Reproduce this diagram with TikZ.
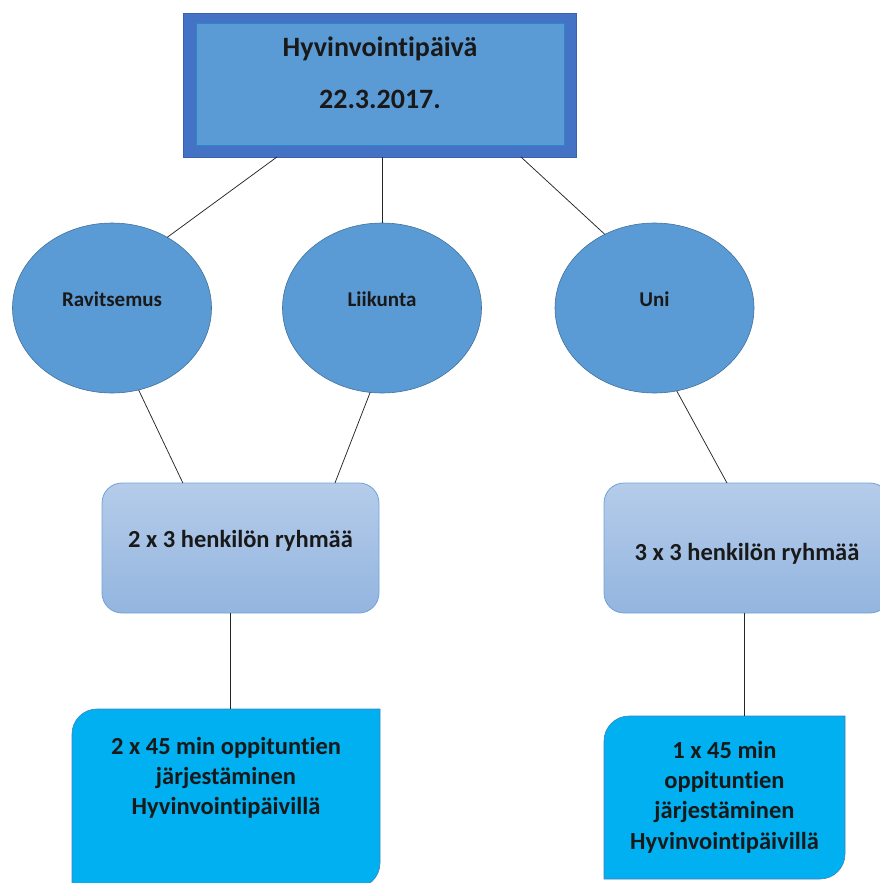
\documentclass[tikz,border=0pt]{standalone}
\usepackage{fontspec}
\setmainfont{Carlito}[Ligatures={NoCommon,NoContextual},Contextuals=NoAlternate]
\usetikzlibrary{shapes.geometric,calc}
\definecolor{tOuter}{HTML}{4472C4}
\definecolor{tOuterLine}{HTML}{3A62AE}
\definecolor{tInner}{HTML}{5B9BD5}
\definecolor{tInnerLine}{HTML}{2E86C8}
\definecolor{ovalFill}{HTML}{5B9BD5}
\definecolor{ovalLine}{HTML}{41719C}
\definecolor{gTop}{HTML}{B5CCEA}
\definecolor{gBot}{HTML}{93B5DF}
\definecolor{gLine}{HTML}{72A2DA}
\definecolor{bFill}{HTML}{00B0F0}
\definecolor{bLine}{HTML}{3F7FBF}
\begin{document}
\begin{tikzpicture}[x=1pt,y=-1pt,
  titleouterbox/.style={rectangle,fill=tOuter,draw=tOuterLine,line width=0.6pt,inner sep=0pt,outer sep=0pt},
  titleinnerbox/.style={rectangle,fill=tInner,draw=tInnerLine,line width=0.8pt,inner sep=0pt,outer sep=0pt},
  titletext/.style={font=\bfseries\fontsize{28}{52}\selectfont,align=center,inner sep=0pt,text=black!90},
  oval/.style={ellipse,fill=ovalFill,draw=ovalLine,line width=0.6pt,minimum width=199pt,minimum height=170pt,inner sep=0pt,outer sep=0pt},
  ovaltext/.style={font=\bfseries\fontsize{21}{25}\selectfont,inner sep=0pt,text=black!90},
  groupbox/.style={rectangle,rounded corners=20pt,top color=gTop,bottom color=gBot,draw=gLine,line width=0.8pt,inner sep=0pt,outer sep=0pt,minimum height=130pt},
  grouptext/.style={font=\bfseries\fontsize{24.5}{30}\selectfont,inner sep=0pt,text=black!90},
  lessonframe/.style={rectangle,inner sep=0pt,outer sep=0pt},
  lessonbox/.style={fill=bFill,draw=bLine,line width=0.6pt},
  lessontext/.style={font=\bfseries\fontsize{24.5}{30.3}\selectfont,align=center,inner sep=0pt,text=black!90},
  conn/.style={draw=black!85,line width=0.75pt}
]
\useasboundingbox (0,0) rectangle (880,883);
\clip (0,0) rectangle (880,883);

% title
\node[titleouterbox,minimum width=393pt,minimum height=144pt] (titleo) at (379.5,85) {};
\node[titleinnerbox,minimum width=368pt,minimum height=122pt] (titlei) at (380,84) {};
\node[titletext] (titlet) at (380,72.5) {Hyvinvointipäivä\\22.3.2017.};

% ellipses
\node[oval] (rav) at (112,308) {};
\node[ovaltext] (ravt) at (112,299.5) {Ravitsemus};
\node[oval] (liik) at (382,308) {};
\node[ovaltext] (liikt) at (382,299.5) {Liikunta};
\node[oval] (uni) at (654.5,308) {};
\node[ovaltext] (unit) at (654.5,299.5) {Uni};

% group boxes
\node[groupbox,minimum width=277pt] (g1) at (240.5,548) {};
\node[grouptext] (g1t) at (240.5,541) {2 x 3 henkilön ryhmää};
\node[groupbox,minimum width=286pt] (g2) at (747,548) {};
\node[grouptext] (g2t) at (747,554) {3 x 3 henkilön ryhmää};

% lesson boxes
\node[lessonframe,minimum width=308pt,minimum height=179pt] (b1) at (226,798.5) {};
\path[lessonbox] (b1.north east) -- ([yshift=25pt]b1.south east)
  arc[start angle=0,end angle=-90,radius=25pt] -- (b1.south west)
  -- ([yshift=-25pt]b1.north west) arc[start angle=180,end angle=90,radius=25pt] -- cycle;
\node[lessontext] (b1t) at (226,778) {2 x 45 min oppituntien\\järjestäminen\\Hyvinvointipäivillä};

\node[lessonframe,minimum width=241pt,minimum height=163pt] (b2) at (724.5,797.5) {};
\path[lessonbox] (b2.north east) -- ([yshift=25pt]b2.south east)
  arc[start angle=0,end angle=-90,radius=25pt] -- (b2.south west)
  -- ([yshift=-25pt]b2.north west) arc[start angle=180,end angle=90,radius=25pt] -- cycle;
\node[lessontext] (b2t) at (724.5,797) {1 x 45 min\\oppituntien\\järjestäminen\\Hyvinvointipäivillä};

% connectors
\draw[conn] ($(titleo.south west)!0.239!(titleo.south east)$) -- (rav.52);
\draw[conn] (liik.north |- titleo.south) -- (liik.north);
\draw[conn] ($(titleo.south west)!0.86!(titleo.south east)$) -- (uni.124);
\draw[conn] (rav.-72) -- ($(g1.north west)!0.292!(g1.north east)$);
\draw[conn] (liik.262) -- ($(g1.north west)!0.841!(g1.north east)$);
\draw[conn] (uni.-75) -- ($(g2.north west)!0.43!(g2.north east)$);
\coordinate (c1) at ($(g1.south west)!0.462!(g1.south east)$);
\draw[conn] (c1) -- (c1 |- b1.north);
\coordinate (c2) at ($(g2.south west)!0.49!(g2.south east)$);
\draw[conn] (c2) -- (c2 |- b2.north);
\end{tikzpicture}
\end{document}
